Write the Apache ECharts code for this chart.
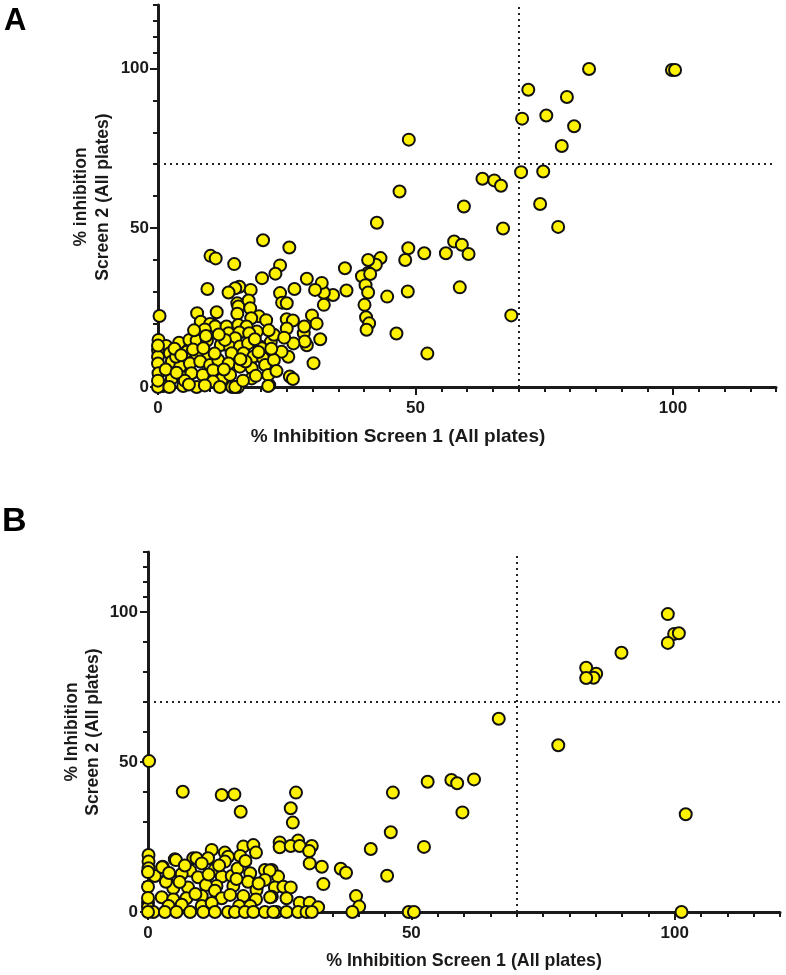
<!DOCTYPE html>
<html>
<head>
<meta charset="utf-8">
<script src="https://cdn.jsdelivr.net/npm/echarts@6/dist/echarts.min.js"></script>
<style>html,body{margin:0;padding:0;background:#fff;}#c{width:786px;height:975px;}</style>
</head>
<body>
<div id="c"></div>
<script>
// ---------- Panel A data ----------
const aX = [83.7,99.8,100.4,71.9,79.4,70.7,75.4,80.8,78.4,48.7,70.5,74.8,63.0,65.3,66.6,46.9,74.2,59.4,67.0,77.7,
42.5,57.5,59.0,60.3,55.9,51.7,48.6,48.0,43.2,42.3,40.8,40.8,39.6,41.2,40.3,40.8,44.5,48.5,58.6,46.3,
68.6,52.3,40.1,40.4,41.0,40.5,36.3,36.6,34.0,32.2,31.8,28.9,30.5,32.2,29.9,30.8,31.5,28.3,28.9,30.2,
28.4,28.5,20.4,25.5,23.7,22.8,20.2,26.5,23.7,24.1,25.0,26.2,25.0,26.3,25.0,25.3,25.6,26.2,21.6,14.4,
15.5,10.2,11.2,14.8,9.6,15.8,15.0,13.7,18.0,0.3,7.6,11.4,8.3,10.7,15.4,15.6,15.4,17.6,17.9,19.6,
21.0,18.1,10.1,11.1,9.1,13.3,15.6,17.2,19.2,13.7,15.8,17.7,15.0,21.9,22.5,0.1,1.6,4.1,6.1,7.5,
9.5,12.2,14.0,15.9,17.5,19.8,24.0,0,0,0,2.3,5.6,7.5,9.8,14.3,16.6,18.5,20.4,20.1,2.7,
4.3,6.2,8.2,10.1,11.7,13.7,15.9,18.2,20.8,0.1,2.7,4.8,6.5,8.7,10.7,12.4,10.7,14.0,18.2,21.4,
1.0,4.9,7.5,9.1,15.0,21.4,0,1.5,3.5,5.2,6.8,8.8,11.0,12.8,3.2,17.0,19.0,22.5,13.0,0,
0,2.2,3.6,6.0,12.0,16.5,19.5,23.0,18.8,11.8,9.3,7.0,4.5,22.0,16.0,24.5,21.5];
const aY = [99.9,99.6,99.6,93.4,91.1,84.3,85.3,81.9,75.7,77.7,67.5,67.7,65.4,64.9,63.2,61.4,57.5,56.7,49.8,50.3,
51.6,45.7,44.7,41.8,42.0,42.0,43.6,39.9,40.5,38.4,39.9,35.8,34.8,35.5,32.0,29.7,28.4,30.0,31.3,16.8,
22.5,10.5,25.8,21.9,20.0,18.0,37.3,30.3,28.9,29.6,32.7,34.0,30.5,25.8,22.5,19.9,15.0,16.9,13.1,7.5,
19.0,14.3,46.1,43.8,38.2,35.6,34.2,30.8,29.5,26.5,21.3,20.9,18.4,13.7,26.3,9.5,3.3,2.5,0.6,0,
0,41.2,40.4,38.6,30.8,31.5,31.0,29.7,30.5,22.3,23.2,23.5,20.5,19.5,26.3,25.3,23.0,27.2,24.7,22.2,
21.0,21.6,19.8,19.0,18.1,19.0,19.5,19.0,17.4,16.9,17.1,16.9,15.3,14.1,16.4,14.8,12.9,13.9,14.8,14.6,
14.6,13.2,12.5,12.7,13.7,12.7,11.1,11.6,9.5,7.4,10.6,11.1,10.1,10.1,10.6,10.6,9.5,9.0,12.2,8.0,
6.4,7.4,8.0,6.9,8.5,7.4,6.4,5.9,6.9,4.3,2.7,3.0,4.3,3.8,5.3,2.4,1.7,3.8,2.7,3.8,
0.3,0.3,0,0.5,0,0.3,0,5.5,9.5,2.0,11.8,12.2,10.5,5.5,12.0,8.0,3.5,8.5,14.8,2.0,
13.0,0,4.5,0.8,0,2.0,11.0,5.0,15.0,16.5,16.0,17.8,10.0,12.0,8.7,15.5,17.8];

// ---------- Panel B data ----------
const bX = [98.7,99.9,100.8,98.7,89.9,83.2,85.1,84.6,83.2,66.6,77.9,46.5,53.1,57.6,58.7,61.9,59.7,102.1,46.1,52.4,
45.4,49.5,50.5,101.3,28.1,27.1,27.5,25.0,25.0,28.5,27.1,28.8,31.1,30.6,42.3,30.7,33.0,36.6,37.6,33.3,
23.5,24.7,24.1,25.7,27.1,23.5,26.3,28.8,30.7,32.3,39.5,40.1,38.8,24.4,26.3,28.5,30.1,31.1,0.2,6.6,
14.0,16.4,17.6,18.1,20.0,20.5,17.5,12.1,14.6,15.2,8.6,9.2,11.4,5.1,10.2,14.6,0.1,0.1,0.1,2.8,
12.7,8.0,1.3,3.5,6.4,9.5,14.0,15.9,19.4,22.2,23.1,19.0,22.2,16.2,13.0,7.6,4.8,0,11.0,20.6,
12.7,2.6,4.8,7.3,10.2,14.0,15.6,18.1,20.5,23.2,0,0,3.9,6.4,10.2,12.1,17.3,19.4,1.0,3.2,
5.4,8.0,10.5,12.7,15.2,16.5,18.4,20.0,22.2,23.8,5.3,2.7,3.4,0,0,11.5,17.0,6.0,9.0,16.8,
21.0,13.5,7.0,4.0,18.5,0];
const bY = [99.3,92.7,92.9,89.7,86.4,81.4,79.4,78.1,78.0,64.4,55.6,39.8,43.4,44.0,42.9,44.2,33.2,32.6,26.6,21.7,
12.1,0,0,0,39.8,34.6,29.8,23.2,21.6,23.8,22.0,22.0,22.0,20.3,21.0,16.2,15.1,14.4,13.1,9.3,
14.0,11.8,8.2,8.4,8.2,5.1,4.6,3.1,3.1,1.6,5.3,1.8,0,0,0,0,0,0,50.3,40.1,
39.0,39.2,33.4,21.8,22.3,19.8,18.7,20.7,19.8,18.4,17.9,17.9,17.9,17.6,16.2,16.8,19.0,16.8,14.6,15.1,
14.2,13.8,12.0,10.4,12.7,11.6,11.8,12.0,12.9,14.0,13.8,10.1,10.7,8.7,8.7,8.2,7.9,8.4,9.0,7.3,
7.1,4.9,4.2,4.6,5.3,4.6,5.7,5.3,4.2,4.9,3.1,1.6,2.0,2.4,2.0,3.0,2.0,2.0,0,0,
0,0,0,0,0,0,0,0,0,0,17.3,14.9,10.1,13.3,4.7,12.5,14.5,10.0,6.0,11.0,
9.5,15.5,15.5,13.0,17.0,0];

// ---------- Axes / labels ----------
const xMinorTicks = [0,5,10,15,20,25,30,35,40,45,50,55,60,65,70,75,80,85,90,95,100,105,110,115,120];
const yMinorTicks = [0,10,20,30,40,50,60,70,80,90,100,105,110,115,120];
const majorTicks = [0,50,100];
const cutoff = 70;
const xTitle = '% Inhibition Screen 1 (All plates)';
const yTitleA = ['% inhibition', 'Screen 2 (All plates)'];
const yTitleB = ['% Inhibition', 'Screen 2 (All plates)'];

const FONT = 'Liberation Sans, Arial, Helvetica, sans-serif';
const INK = '#1a1a1a';

function pairs(xs, ys){ return xs.map((x,i)=>[x, ys[i]]); }

function xAxes(g, withName, nameSize){
  const major = {gridIndex:g, type:'value', min:0, max:120, position:'bottom',
     axisLine:{show:false, onZero:false},
     axisTick:{show:true, customValues:majorTicks, length:8, lineStyle:{color:INK, width:2}},
     axisLabel:{show:true, customValues:majorTicks, margin:13, fontSize:17, fontWeight:'bold', color:INK, fontFamily:FONT},
     splitLine:{show:false}};
  if (withName) {
    major.name = xTitle; major.nameLocation = 'middle'; major.nameGap = 40;
    major.nameTextStyle = {fontSize:nameSize, fontWeight:'bold', color:INK, fontFamily:FONT};
  }
  return [
    {gridIndex:g, type:'value', min:0, max:120, position:'bottom',
     axisLine:{show:true, onZero:false, lineStyle:{color:INK, width:3}},
     axisTick:{show:true, customValues:xMinorTicks, length:5, lineStyle:{color:INK, width:2}},
     axisLabel:{show:false}, splitLine:{show:false}},
    major
  ];
}
function yAxes(g, lblMargin){
  return [
    {gridIndex:g, type:'value', min:0, max:120, position:'left',
     axisLine:{show:true, onZero:false, lineStyle:{color:INK, width:3}},
     axisTick:{show:true, customValues:yMinorTicks, length:5, lineStyle:{color:INK, width:2}},
     axisLabel:{show:false}, splitLine:{show:false}},
    {gridIndex:g, type:'value', min:0, max:120, position:'left',
     axisLine:{show:false, onZero:false},
     axisTick:{show:true, customValues:majorTicks, length:8, lineStyle:{color:INK, width:2}},
     axisLabel:{show:true, customValues:majorTicks, margin:lblMargin, fontSize:17, fontWeight:'bold', color:INK, fontFamily:FONT},
     splitLine:{show:false}}
  ];
}

function scatter(xi, yi, data){
  return {
    type:'scatter', xAxisIndex:xi, yAxisIndex:yi, data:data, clip:false,
    symbol:'circle', symbolSize:12,
    itemStyle:{color:'#FFF200', borderColor:'#111', borderWidth:2, opacity:1},
    emphasis:{disabled:true},
    markLine:{silent:true, symbol:'none', label:{show:false}, animation:false, z:1,
      lineStyle:{type:[2,4], color:'#222', width:2},
      data:[{xAxis:cutoff},{yAxis:cutoff}]}
  };
}

function vText(txt, x, y){
  return {type:'text', x:x, y:y, rotation:Math.PI/2,
    style:{text:txt, font:'bold 17.5px '+FONT, fill:INK, textAlign:'center', textVerticalAlign:'middle'}};
}

const chart = echarts.init(document.getElementById('c'), null, {renderer:'canvas'});
chart.setOption({
  animation:false,
  backgroundColor:'#fff',
  grid:[
    {left:158, top:5, width:618, height:382},
    {left:148, top:552, width:632, height:360}
  ],
  xAxis: xAxes(0, false, 18.5).concat(xAxes(1, true, 17.8)),
  yAxis: yAxes(0, 9).concat(yAxes(1, 10)),
  series:[
    scatter(0, 0, pairs(aX, aY)),
    scatter(2, 2, pairs(bX, bY))
  ],
  graphic:[
    {type:'text', left:4, top:6, style:{text:'A', font:'bold 31px '+FONT, fill:'#000'}},
    {type:'text', left:2, top:505, style:{text:'B', font:'bold 34px '+FONT, fill:'#000'}},
    {type:'text', x:398, y:437, style:{text:xTitle, font:'bold 19px '+FONT, fill:INK, textAlign:'center', textVerticalAlign:'middle'}},
    vText(yTitleA[0], 81, 197),
    vText(yTitleA[1], 103, 197),
    vText(yTitleB[0], 72, 732),
    vText(yTitleB[1], 93, 732)
  ]
});
</script>
</body>
</html>
